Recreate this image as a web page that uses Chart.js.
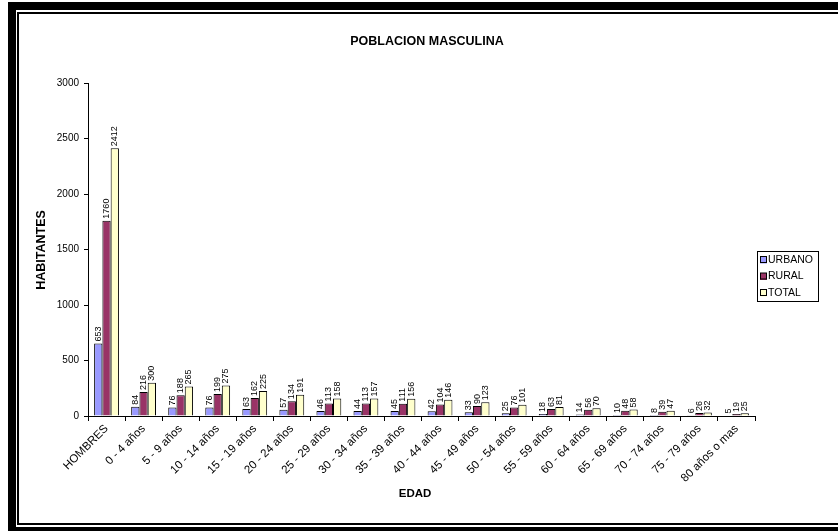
<!DOCTYPE html>
<html>
<head>
<meta charset="utf-8">
<script src="https://cdn.jsdelivr.net/npm/chart.js@4/dist/chart.umd.min.js"></script>
<style>
  html, body { margin: 0; padding: 0; background: #fff; }
  #wrap { position: relative; width: 838px; height: 531px; overflow: hidden; }
  canvas { position: absolute; left: 0; top: 0; }
  .b { position: absolute; background: #000; }
</style>
</head>
<body>
<div id="wrap">
  <canvas id="c" width="838" height="531"></canvas>
  <div class="b" style="left:8px;top:2px;width:8px;height:529px"></div>
  <div class="b" style="left:8px;top:2px;width:830px;height:8px"></div>
  <div class="b" style="left:8px;top:527px;width:830px;height:4px"></div>
  <div class="b" style="left:17px;top:12px;width:2px;height:513px"></div>
  <div class="b" style="left:17px;top:12px;width:821px;height:2px"></div>
  <div class="b" style="left:17px;top:523px;width:821px;height:2px"></div>
</div>
<script>
const categories = ["HOMBRES","0 - 4 años","5 - 9 años","10 - 14 años","15 - 19 años","20 - 24 años","25 - 29 años","30 - 34 años","35 - 39 años","40 - 44 años","45 - 49 años","50 - 54 años","55 - 59 años","60 - 64 años","65 - 69 años","70 - 74 años","75 - 79 años","80 años o mas"];
const urbano = [653, 84, 76, 76, 63, 57, 46, 44, 45, 42, 33, 25, 18, 14, 10, 8, 6, 5];
const rural  = [1760, 216, 188, 199, 162, 134, 113, 113, 111, 104, 90, 76, 63, 56, 48, 39, 26, 19];
const total  = [2412, 300, 265, 275, 225, 191, 158, 157, 156, 146, 123, 101, 81, 70, 58, 47, 32, 25];
const seriesNames = ["URBANO", "RURAL", "TOTAL"];
const yTicks = [0, 500, 1000, 1500, 2000, 2500, 3000];
const chartTitle = "POBLACION MASCULINA";
const xTitle = "EDAD";
const yTitle = "HABITANTES";

const FONT = "'Liberation Sans', Arial, sans-serif";

const extras = {
  id: 'extras',
  afterDatasetsDraw(chart) {
    const ctx = chart.ctx;
    ctx.save();
    ctx.fillStyle = '#000';
    ctx.font = '9px ' + FONT;
    ctx.textAlign = 'left';
    ctx.textBaseline = 'middle';
    chart.data.datasets.forEach((ds, i) => {
      const meta = chart.getDatasetMeta(i);
      meta.data.forEach((bar, j) => {
        ctx.save();
        ctx.translate(bar.x, bar.y - 2);
        ctx.rotate(-Math.PI / 2);
        ctx.fillText(String(ds.data[j]), 0, 0);
        ctx.restore();
      });
    });
    ctx.restore();
  },
  afterDraw(chart) {
    const ctx = chart.ctx;
    ctx.save();
    ctx.fillStyle = '#000';
    ctx.textAlign = 'center';
    ctx.textBaseline = 'middle';
    ctx.font = 'bold 12.5px ' + FONT;
    ctx.fillText(chartTitle, 427, 42);
    ctx.font = 'bold 11.5px ' + FONT;
    ctx.fillText(xTitle, 415, 494);
    ctx.save();
    ctx.translate(42, 250);
    ctx.rotate(-Math.PI / 2);
    ctx.font = 'bold 12.5px ' + FONT;
    ctx.fillText(yTitle, 0, 0);
    ctx.restore();
    // legend
    const lx = 757, ly = 251, lw = 61, lh = 50;
    ctx.fillStyle = '#fff';
    ctx.fillRect(lx, ly, lw, lh);
    ctx.strokeStyle = '#000';
    ctx.lineWidth = 1;
    ctx.strokeRect(lx + 0.5, ly + 0.5, lw, lh);
    ctx.font = '10.5px ' + FONT;
    ctx.textAlign = 'left';
    chart.data.datasets.forEach((ds, i) => {
      const cy = ly + 9 + i * 16.5;
      ctx.fillStyle = ds.backgroundColor;
      ctx.fillRect(lx + 3, cy - 3.5, 7, 7);
      ctx.strokeRect(lx + 3.5, cy - 3.5, 6, 6);
      ctx.fillStyle = '#000';
      ctx.fillText(ds.label, lx + 11, cy);
    });
    ctx.restore();
  }
};

new Chart(document.getElementById('c'), {
  type: 'bar',
  data: {
    labels: categories,
    datasets: [
      { label: seriesNames[0], data: urbano, backgroundColor: '#9999FF', borderColor: '#000', borderWidth: 1 },
      { label: seriesNames[1], data: rural, backgroundColor: '#993366', borderColor: '#000', borderWidth: 1 },
      { label: seriesNames[2], data: total, backgroundColor: '#FFFFCC', borderColor: '#000', borderWidth: 1 }
    ]
  },
  options: {
    responsive: false,
    animation: false,
    devicePixelRatio: 1,
    layout: { padding: { left: 20, top: 83, right: 83, bottom: 0 } },
    datasets: { bar: { barPercentage: 1, categoryPercentage: 0.67 } },
    plugins: { legend: { display: false }, tooltip: { enabled: false }, title: { display: false } },
    scales: {
      x: {
        offset: true,
        grid: { display: true, drawOnChartArea: false, drawTicks: true, tickLength: 5, color: '#000', offset: true },
        border: { color: '#000', width: 1 },
        ticks: { color: '#000', font: { family: FONT, size: 11.5 }, minRotation: 45, maxRotation: 45, autoSkip: false, padding: 1 },
        afterFit(s) { s.height = 115; }
      },
      y: {
        min: 0, max: 3000,
        afterBuildTicks(s) { s.ticks = yTicks.map(v => ({ value: v })); },
        grid: { display: true, drawOnChartArea: false, drawTicks: true, tickLength: 4, color: '#000' },
        border: { color: '#000', width: 1 },
        ticks: { color: '#000', font: { family: FONT, size: 10 }, padding: 5, callback: v => String(v) },
        afterFit(s) { s.width = 68; }
      }
    }
  },
  plugins: [extras]
});
</script>
</body>
</html>
